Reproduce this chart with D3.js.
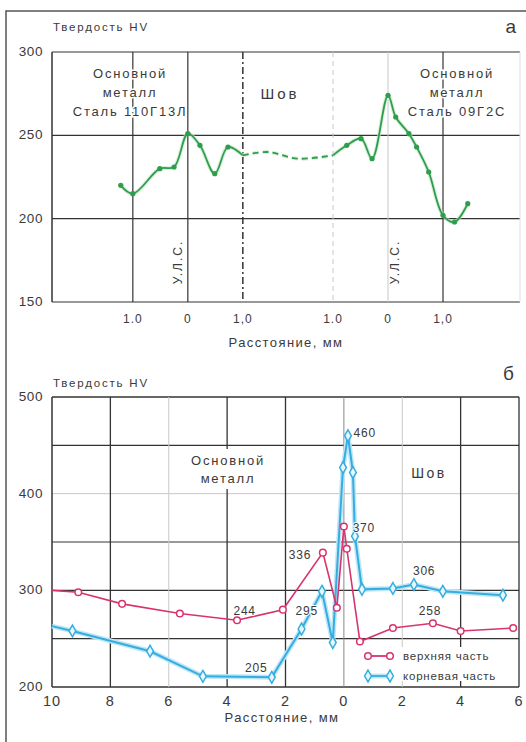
<!DOCTYPE html>
<meta charset="utf-8">
<style>
body { margin: 0; background: #fff; }
text { font-family: "Liberation Sans", Arial, sans-serif; fill: #3a3a3a; }
</style>
<svg width="526" height="742"></svg>
<script src="https://d3js.org/d3.v7.min.js"></script>
<script>
// ---- panel а : hardness across the weld (mm from fusion lines, centre not to scale)
var topDist = [-1.22, -1.0, -0.51, -0.25, 0, 0.22, 0.49, 0.73, 1.0, 1.45, 2.0, 2.64, 2.89, 3.15, 3.35, 3.64, 3.78, 4.02, 4.16, 4.38, 4.64, 4.85, 5.09];
var topHV   = [220, 215, 230, 231, 251, 244, 227, 243, 238, 240, 236, 238, 244, 248, 236, 274, 261, 251, 243, 228, 202, 198, 209];
var dashFrom = 8, dashTo = 11;   // weld centre part drawn dashed
var topTicks = [-1, 0, 1, 2.64, 3.64, 4.64];
var topTickLabels = ["1.0", "0", "1,0", "1.0", "0", "1,0"];
var topYTicks = [150, 200, 250, 300];

// ---- panel б : upper and root parts
var upperDist = [-10, -9.1, -7.6, -5.62, -3.66, -2.09, -0.72, -0.24, 0, 0.1, 0.55, 1.68, 3.05, 4.0, 5.8];
var upperHV   = [300, 298, 286, 276, 269, 280, 339, 282, 366, 343, 247, 261, 266, 258, 261];
var rootDist  = [-10, -9.3, -6.64, -4.83, -2.47, -1.45, -0.75, -0.38, -0.03, 0.14, 0.31, 0.38, 0.62, 1.68, 2.4, 3.39, 5.45];
var rootHV    = [263, 258, 237, 211, 210, 260, 299, 246, 427, 460, 422, 356, 301, 302, 306, 299, 295];
var botXTicks = [-10, -8, -6, -4, -2, 0, 2, 4, 6];
var botYTicks = [200, 300, 400, 500];
var notes = [
  {t: "460", d: 0.33, v: 463, a: "start"},
  {t: "370", d: 0.3, v: 365, a: "start"},
  {t: "336", d: -1.12, v: 337, a: "end"},
  {t: "244", d: -3.4, v: 279, a: "middle"},
  {t: "295", d: -1.27, v: 279, a: "middle"},
  {t: "306", d: 2.75, v: 320, a: "middle"},
  {t: "258", d: 2.95, v: 279, a: "middle"},
  {t: "205", d: -3.0, v: 220, a: "middle"}
];
var seriesNames = ["верхняя часть", "корневая часть"];

var pink = "#d8336f", blue = "#35ade0", green = "#2f9e4c";
var dark = "#333", light = "#c8c8c8";

var svg = d3.select("svg");

// frame
svg.append("path").attr("d", "M6,742V11H526").attr("fill", "none").attr("stroke", "#555").attr("stroke-width", 1.5);

// ================= panel а
var g1 = svg.append("g").attr("transform", "translate(52,52)");
var w1 = 468, h1 = 250;
var x1 = d3.scaleLinear().domain([-2.47, 6.04]).range([0, w1]);
var y1 = d3.scaleLinear().domain([150, 300]).range([h1, 0]);

topYTicks.forEach(function(v) {
  g1.append("line").attr("x1", 0).attr("x2", w1).attr("y1", y1(v)).attr("y2", y1(v))
    .attr("stroke", dark).attr("stroke-width", 1.2);
  g1.append("text").attr("x", -9).attr("y", y1(v)).attr("dy", "0.3em")
    .attr("text-anchor", "end").attr("font-size", 13.5).attr("letter-spacing", 0.6).text(v);
});
var vStyle = [
  {c: dark, w: 1.2, d: null},
  {c: dark, w: 1.2, d: null},
  {c: dark, w: 1.5, d: "7,3,2,3"},
  {c: light, w: 1, d: "5,4"},
  {c: light, w: 1, d: null},
  {c: dark, w: 1.2, d: null}
];
topTicks.forEach(function(u, i) {
  g1.append("line").attr("x1", x1(u)).attr("x2", x1(u)).attr("y1", 0).attr("y2", h1)
    .attr("stroke", vStyle[i].c).attr("stroke-width", vStyle[i].w).attr("stroke-dasharray", vStyle[i].d);
  g1.append("text").attr("x", x1(u)).attr("y", h1 + 21).attr("text-anchor", "middle")
    .attr("font-size", 12).attr("letter-spacing", 1)
    .attr("fill", i == 2 || i == 5 ? "#888" : "#3a3a3a").text(topTickLabels[i]);
});
g1.append("line").attr("x1", 0).attr("x2", 0).attr("y1", 0).attr("y2", h1).attr("stroke", dark).attr("stroke-width", 1.5);
g1.append("line").attr("x1", w1).attr("x2", w1).attr("y1", 0).attr("y2", h1).attr("stroke", "#ddd");

// region labels
function block(g, cx, y0, lines, step) {
  lines.forEach(function(s, i) {
    g.append("text").attr("x", cx).attr("y", y0 + i * step).attr("text-anchor", "middle")
      .attr("font-size", 13).attr("letter-spacing", 1.8)
      .attr("stroke", "#fff").attr("stroke-width", 3).attr("paint-order", "stroke").text(s);
  });
}
block(g1, 78, 26, ["Основной", "металл", "Сталь 110Г13Л"], 19);
block(g1, 405, 26, ["Основной", "металл", "Сталь 09Г2С"], 19);
g1.append("text").attr("x", 228).attr("y", 47).attr("text-anchor", "middle").attr("font-size", 15).attr("letter-spacing", 3).text("Шов");
[0, 3.64].forEach(function(u, i) {
  var xx = x1(u) + (i == 0 ? -10 : 7);
  g1.append("text").attr("transform", "translate(" + xx + "," + 210 + ") rotate(-90)")
    .attr("text-anchor", "middle").attr("font-size", 12).attr("letter-spacing", 2).attr("dy", "0.35em").text("У.Л.С.");
});

var line1 = d3.line().x(function(d) { return x1(d[0]); }).y(function(d) { return y1(d[1]); }).curve(d3.curveCatmullRom);
var pts1 = topDist.map(function(d, i) { return [d, topHV[i]]; });
var parts = [pts1.slice(0, dashFrom + 1), pts1.slice(dashFrom, dashTo + 1), pts1.slice(dashTo)];
parts.forEach(function(p, i) {
  g1.append("path").attr("d", line1(p)).attr("fill", "none").attr("stroke", "#bfe5c6").attr("stroke-width", 4)
    .attr("stroke-dasharray", i == 1 ? "6,4" : null).attr("opacity", 0.6);
  g1.append("path").attr("d", line1(p)).attr("fill", "none").attr("stroke", green).attr("stroke-width", 1.8)
    .attr("stroke-dasharray", i == 1 ? "6,4" : null);
});
g1.selectAll(".dot").data(pts1.filter(function(d, i) { return i < dashFrom || i > dashTo; }))
  .enter().append("circle").attr("cx", function(d) { return x1(d[0]); }).attr("cy", function(d) { return y1(d[1]); })
  .attr("r", 2.6).attr("fill", green);

svg.append("text").attr("x", 53).attr("y", 31).attr("font-size", 11.5).attr("letter-spacing", 1.8).text("Твердость HV");
svg.append("text").attr("x", 516).attr("y", 33).attr("text-anchor", "end").attr("font-size", 19).text("а");
svg.append("text").attr("x", 286).attr("y", 347).attr("text-anchor", "middle").attr("font-size", 13).attr("letter-spacing", 1.4).text("Расстояние, мм");

// ================= panel б
var g2 = svg.append("g").attr("transform", "translate(52,397)");
var w2 = 467, h2 = 290;
var x2 = d3.scaleLinear().domain([-10, 6]).range([0, w2]);
var y2 = d3.scaleLinear().domain([200, 500]).range([h2, 0]);

d3.range(200, 501, 50).forEach(function(v) {
  g2.append("line").attr("x1", 0).attr("x2", w2).attr("y1", y2(v)).attr("y2", y2(v))
    .attr("stroke", v == 400 ? light : (v == 350 ? "#777" : dark)).attr("stroke-width", v == 400 ? 1 : 1.3);
});
botYTicks.forEach(function(v) {
  g2.append("text").attr("x", -9).attr("y", y2(v)).attr("dy", "0.3em").attr("text-anchor", "end")
    .attr("font-size", 13.5).attr("letter-spacing", 0.6).text(v);
});
var vCol = {"-8": dark, "-6": light, "-4": dark, "-2": dark, "0": "#888", "2": light, "4": dark, "6": dark};
botXTicks.forEach(function(d) {
  if (d > -10) {
    g2.append("line").attr("x1", x2(d)).attr("x2", x2(d)).attr("y1", 0).attr("y2", h2)
      .attr("stroke", vCol[d]).attr("stroke-width", vCol[d] == dark ? 1.3 : 1);
  }
  g2.append("text").attr("x", x2(d)).attr("y", h2 + 19).attr("text-anchor", "middle").attr("font-size", 14.5)
    .attr("letter-spacing", 1).text(Math.abs(d));
});
g2.append("line").attr("x1", 0).attr("x2", 0).attr("y1", 0).attr("y2", h2).attr("stroke", dark).attr("stroke-width", 1.5);

// region labels with white backing
g2.append("rect").attr("x", 132).attr("y", 52).attr("width", 88).attr("height", 40).attr("fill", "#fff");
g2.append("text").attr("x", 176).attr("y", 68).attr("text-anchor", "middle").attr("font-size", 13).attr("letter-spacing", 1.8).text("Основной");
g2.append("text").attr("x", 176).attr("y", 86).attr("text-anchor", "middle").attr("font-size", 13).attr("letter-spacing", 1.8).text("металл");
g2.append("text").attr("x", 377).attr("y", 81).attr("text-anchor", "middle").attr("font-size", 14).attr("letter-spacing", 2.5).text("Шов");

var line2 = d3.line().x(function(d) { return x2(d[0]); }).y(function(d) { return y2(d[1]); });
var up = upperDist.map(function(d, i) { return [d, upperHV[i]]; });
var root = rootDist.map(function(d, i) { return [d, rootHV[i]]; });

g2.append("path").attr("d", line2(root)).attr("fill", "none").attr("stroke", "#bfe6f7").attr("stroke-width", 5);
g2.append("path").attr("d", line2(root)).attr("fill", "none").attr("stroke", blue).attr("stroke-width", 2);
g2.append("path").attr("d", line2(up)).attr("fill", "none").attr("stroke", pink).attr("stroke-width", 1.6);

var diamond = d3.symbol().type(d3.symbolDiamond).size(40);
g2.selectAll(".rd").data(root.slice(1)).enter().append("path").attr("d", diamond)
  .attr("transform", function(d) { return "translate(" + x2(d[0]) + "," + y2(d[1]) + ")"; })
  .attr("fill", "#e6f6fd").attr("stroke", blue).attr("stroke-width", 1.5);
g2.selectAll(".uc").data(up.slice(1)).enter().append("circle")
  .attr("cx", function(d) { return x2(d[0]); }).attr("cy", function(d) { return y2(d[1]); })
  .attr("r", 3.3).attr("fill", "#fff").attr("stroke", pink).attr("stroke-width", 1.5);

notes.forEach(function(n) {
  g2.append("text").attr("x", x2(n.d)).attr("y", y2(n.v)).attr("dy", "0.35em").attr("text-anchor", n.a)
    .attr("font-size", 12).attr("letter-spacing", 0.8)
    .attr("stroke", "#fff").attr("stroke-width", 2).attr("paint-order", "stroke").text(n.t);
});

// legend
var lg = g2.append("g").attr("transform", "translate(311,250)");
lg.append("rect").attr("x", 0).attr("y", 0).attr("width", 155).attr("height", 34).attr("fill", "#fff");
[pink, blue].forEach(function(c, i) {
  var yy = 9 + i * 20;
  if (i == 1) lg.append("line").attr("x1", 5).attr("x2", 27).attr("y1", yy).attr("y2", yy).attr("stroke", "#bfe6f7").attr("stroke-width", 5);
  lg.append("line").attr("x1", 5).attr("x2", 27).attr("y1", yy).attr("y2", yy).attr("stroke", c).attr("stroke-width", 1.8);
  [5, 27].forEach(function(xx) {
    if (i == 0) lg.append("circle").attr("cx", xx).attr("cy", yy).attr("r", 3.3).attr("fill", "#fff").attr("stroke", c).attr("stroke-width", 1.5);
    else lg.append("path").attr("d", diamond).attr("transform", "translate(" + xx + "," + yy + ")").attr("fill", "#e6f6fd").attr("stroke", c).attr("stroke-width", 1.5);
  });
  lg.append("text").attr("x", 40).attr("y", yy).attr("dy", "0.35em").attr("font-size", 11.5).attr("letter-spacing", 0.8).text(seriesNames[i]);
});

svg.append("text").attr("x", 53).attr("y", 387).attr("font-size", 11.5).attr("letter-spacing", 1.8).text("Твердость HV");
svg.append("text").attr("x", 514).attr("y", 380).attr("text-anchor", "end").attr("font-size", 19).text("б");
svg.append("text").attr("x", 282).attr("y", 722).attr("text-anchor", "middle").attr("font-size", 13).attr("letter-spacing", 1.4).text("Расстояние, мм");
</script>
